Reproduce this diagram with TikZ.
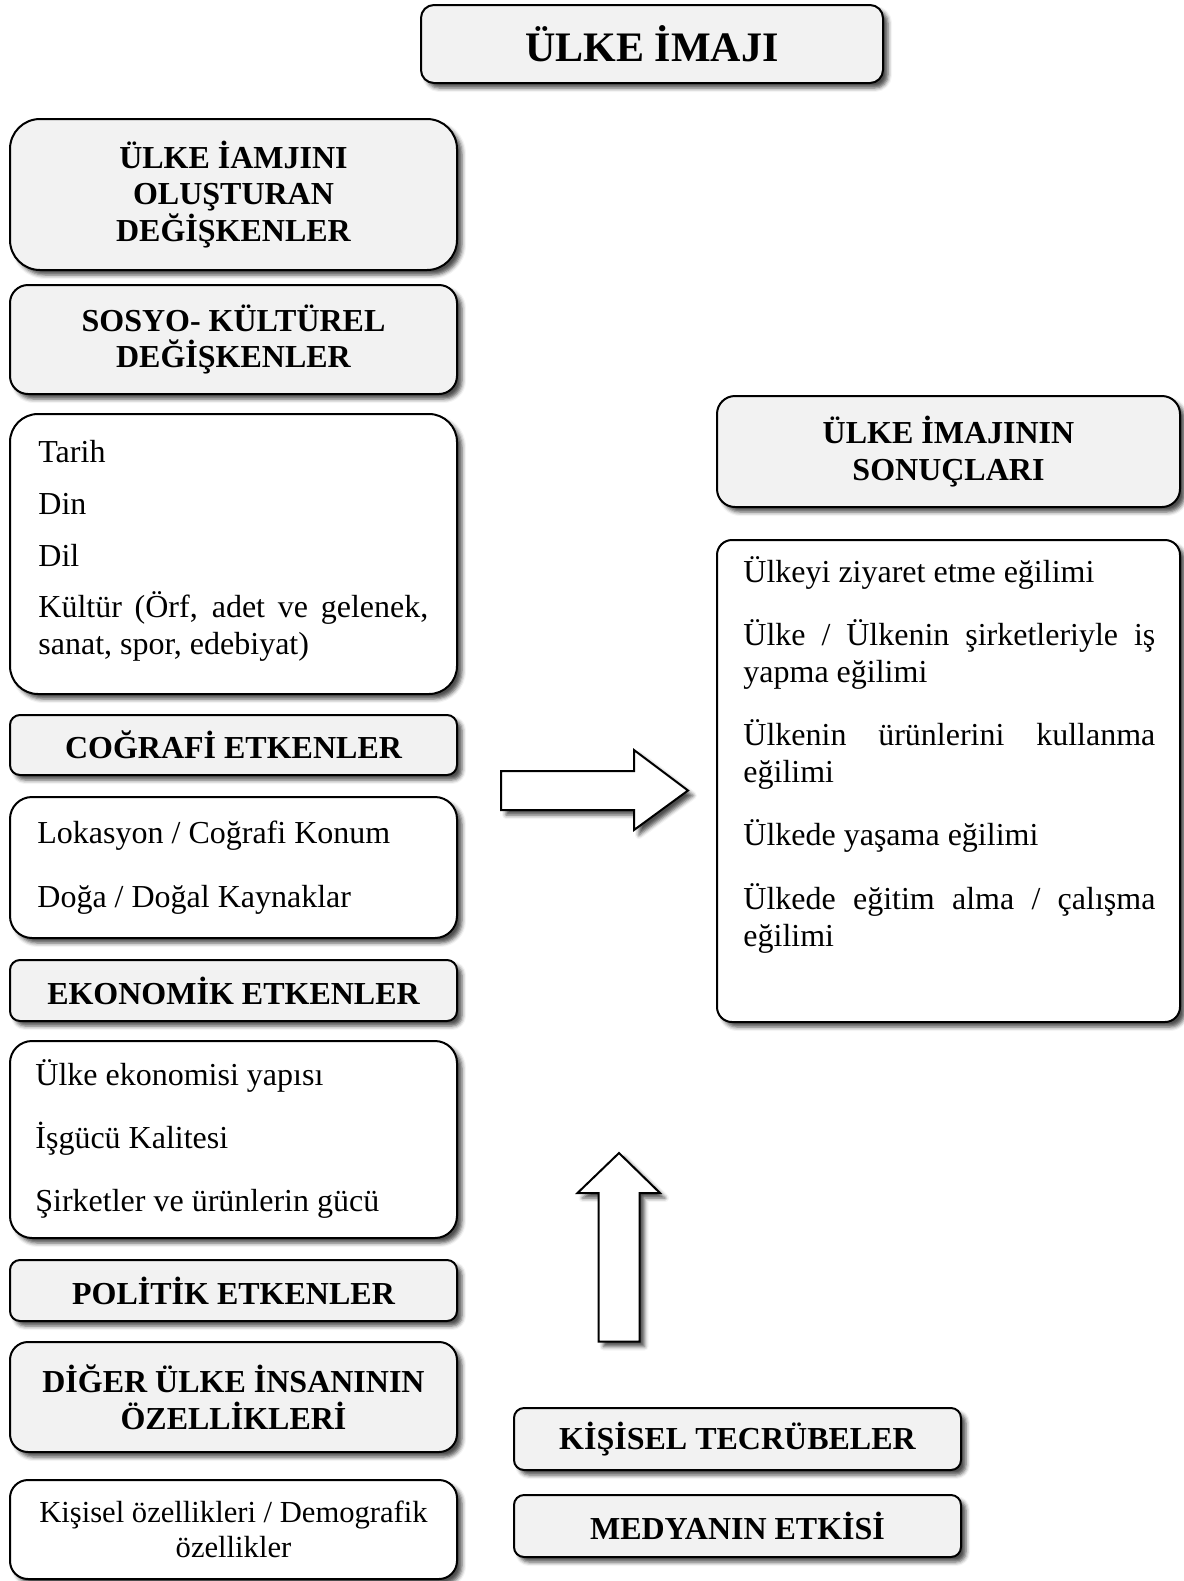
\documentclass[tikz,border=0pt]{standalone}
\usepackage{fontspec}
\setmainfont{Liberation Serif}
\usetikzlibrary{shadows,shadows.blur}
\definecolor{boxgray}{HTML}{F2F2F2}
\hyphenpenalty=10000
\exhyphenpenalty=10000
\tolerance=9999
\newcommand\mybodyfont{\fontsize{16pt}{18.5pt}\selectfont}
\newcommand\mysmallfont{\fontsize{15.3pt}{17.6pt}\selectfont}
\newcommand\myhdrfont{\fontsize{16pt}{18.3pt}\selectfont\bfseries}
\newcommand\mytitlefont{\fontsize{21pt}{25pt}\selectfont\bfseries}
\begin{document}
\begin{tikzpicture}[x=0.5pt,y=-0.5pt,
  shad/.style={blur shadow={shadow xshift=2.5pt,shadow yshift=-2.5pt,shadow blur radius=2pt,shadow opacity=70}},
  boxbase/.style={draw=black,line width=1pt,shad,inner sep=0pt,align=center},
  hdr/.style={boxbase,fill=boxgray,font=\myhdrfont},
  cnt/.style={boxbase,fill=white,font=\mybodyfont},
  lw/.style={minimum width=223.5pt},
  txt/.style={inner sep=0pt,anchor=base west,font=\mybodyfont},
  blockarrow/.style={draw=black,line width=1pt,fill=white,shad,line join=miter}
]
\useasboundingbox (0,0) rectangle (1184,1581);

% title
\node[hdr,minimum width=231pt,minimum height=39pt,rounded corners=6.5pt,
      font=\mytitlefont] (title) at (652,44) {ÜLKE İMAJI};

% left column
\node[hdr,lw,minimum height=75.5pt,rounded corners=15pt] (b1) at (233.5,194.5)
  {ÜLKE İAMJINI\\OLUŞTURAN\\DEĞİŞKENLER};
\node[hdr,lw,minimum height=54.5pt,rounded corners=9pt] (b2) at (233.5,339.5)
  {SOSYO- KÜLTÜREL\\DEĞİŞKENLER};
\node[cnt,lw,minimum height=140pt,rounded corners=14pt] (b3) at (233.5,554) {};
\node[hdr,lw,minimum height=30pt,rounded corners=5pt] (b4) at (233.5,745) {COĞRAFİ ETKENLER};
\node[cnt,lw,minimum height=70.5pt,rounded corners=11pt] (b5) at (233.5,867.5) {};
\node[hdr,lw,minimum height=30.5pt,rounded corners=5pt] (b6) at (233.5,990.5) {EKONOMİK ETKENLER};
\node[cnt,lw,minimum height=98.5pt,rounded corners=11pt] (b7) at (233.5,1139.5) {};
\node[hdr,lw,minimum height=30.5pt,rounded corners=5pt] (b8) at (233.5,1290.5) {POLİTİK ETKENLER};
\node[hdr,lw,minimum height=55pt,rounded corners=9pt] (b9) at (233.5,1397)
  {DİĞER ÜLKE İNSANININ\\ÖZELLİKLERİ};
\node[cnt,lw,minimum height=49.5pt,rounded corners=9pt,font=\mysmallfont] (b10) at (233.5,1529.5)
  {Kişisel özellikleri / Demografik\\özellikler};

% texts of left content boxes
\node[txt] (t31) at (38,462) {Tarih};
\node[txt] (t32) at (38,514) {Din};
\node[txt] (t33) at (38,566) {Dil};
\node[txt,text width=195pt,align=justify] (t34) at (38,617) {Kültür (Örf, adet ve gelenek, sanat, spor, edebiyat)};
\node[txt] (t51) at (37,843) {Lokasyon / Coğrafi Konum};
\node[txt] (t52) at (37,907) {Doğa / Doğal Kaynaklar};
\node[txt] (t71) at (35,1085) {Ülke ekonomisi yapısı};
\node[txt] (t72) at (35,1148) {İşgücü Kalitesi};
\node[txt] (t73) at (35,1211) {Şirketler ve ürünlerin gücü};

% right column
\node[hdr,minimum width=231.5pt,minimum height=55.5pt,rounded corners=9pt] (r1) at (948.5,451.5)
  {ÜLKE İMAJININ\\SONUÇLARI};
\node[cnt,minimum width=231.5pt,minimum height=241pt,rounded corners=7.5pt] (r2) at (948.5,781) {};
\node[txt] (s1) at (743,582) {Ülkeyi ziyaret etme eğilimi};
\node[txt,text width=206pt,align=justify] (s2) at (743,645) {Ülke / Ülkenin şirketleriyle iş yapma eğilimi};
\node[txt,text width=206pt,align=justify] (s3) at (743,745) {Ülkenin ürünlerini kullanma eğilimi};
\node[txt] (s4) at (743,845) {Ülkede yaşama eğilimi};
\node[txt,text width=206pt,align=justify] (s5) at (743,909) {Ülkede eğitim alma / çalışma eğilimi};

% bottom boxes
\node[hdr,lw,minimum height=31pt,rounded corners=5pt] (k1) at (737.5,1439) {KİŞİSEL TECRÜBELER};
\node[hdr,lw,minimum height=31pt,rounded corners=5pt] (k2) at (737.5,1526) {MEDYANIN ETKİSİ};

% block arrows
\draw[blockarrow] (501,771) -- (634,771) -- (634,750) -- (688,790.5) -- (634,830) -- (634,810) -- (501,810) -- cycle;
\draw[blockarrow] (598.5,1341.5) -- (598.5,1193) -- (577.5,1193) -- (619,1153) -- (660,1193) -- (639.5,1193) -- (639.5,1341.5) -- cycle;
\end{tikzpicture}
\end{document}
